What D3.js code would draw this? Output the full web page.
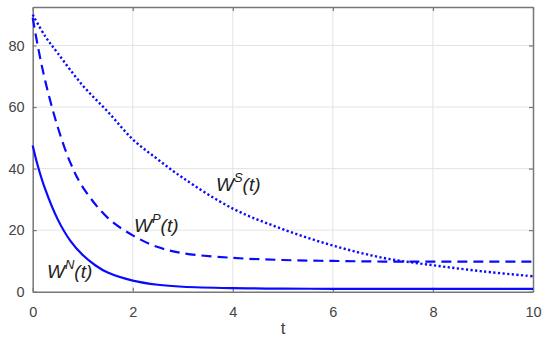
<!DOCTYPE html>
<html>
<head>
<meta charset="utf-8">
<script src="https://cdn.jsdelivr.net/npm/d3@7"></script>
<style>
  body { margin: 0; background: #fff; }
  svg { display: block; }
</style>
</head>
<body>
<svg id="chart"></svg>
<script>
// time samples and the three curves
const tN = [0, 0.1, 0.25, 0.5, 0.75, 1, 1.25, 1.5, 2, 2.5, 3, 4, 5, 6, 7, 8, 9, 10]
const wN = [47.5, 41, 33.3, 23.5, 16.6, 11.9, 8.6, 6.2, 3.6, 2.25, 1.6, 1.15, 1.0, 0.95, 0.95, 0.95, 0.95, 0.95]
const tP = [0, 0.1, 0.25, 0.5, 0.75, 1, 1.5, 2, 2.5, 3, 4, 5, 6, 7, 8, 9, 10]
const wP = [89, 80, 68.5, 53.5, 42, 34, 24, 18.3, 14.5, 12.5, 11, 10.3, 10, 9.8, 9.8, 9.8, 9.8]
const tS = [0, 0.25, 0.5, 1, 1.5, 2, 2.5, 3, 4, 5, 6, 7, 8, 9, 10]
const wS = [90, 83, 77.5, 67, 58.5, 49.5, 43, 37, 27, 20.3, 15, 11, 8.6, 6.6, 5]

const xTicks = [0, 2, 4, 6, 8, 10]
const yTicks = [0, 20, 40, 60, 80]

const width = 550, height = 345
const mLeft = 32.7, mRight = 533, mTop = 7, mBottom = 291.7
const blue = "#0a0aff", axisCol = "#777", textCol = "#444"

const svg = d3.select("#chart").attr("width", width).attr("height", height)

const xScale = d3.scaleLinear().domain([0, 10]).range([mLeft, mRight])
const yScale = d3.scaleLinear().domain([0, 92.5]).range([mBottom, mTop])

// grid
svg.append("g").selectAll("line").data(xTicks.slice(1, -1)).join("line")
    .attr("x1", d => xScale(d)).attr("x2", d => xScale(d))
    .attr("y1", mTop).attr("y2", mBottom)
    .attr("stroke", "#e3e3e3").attr("stroke-width", 1)
svg.append("g").selectAll("line").data(yTicks.slice(1)).join("line")
    .attr("y1", d => yScale(d)).attr("y2", d => yScale(d))
    .attr("x1", mLeft).attr("x2", mRight)
    .attr("stroke", "#e3e3e3").attr("stroke-width", 1)

// axes (ticks inward, MATLAB style)
const styleAxis = g => {
    g.selectAll("path").attr("stroke", axisCol).attr("stroke-width", 1.5)
    g.selectAll(".tick line").attr("stroke", axisCol).attr("stroke-width", 1.2)
    g.selectAll("text").attr("fill", textCol)
        .style("font", "14.5px 'Liberation Sans', Arial, sans-serif")
}
svg.append("g").attr("transform", `translate(0,${mBottom})`)
    .call(d3.axisBottom(xScale).tickValues(xTicks).tickSizeInner(-4).tickSizeOuter(0).tickPadding(15))
    .call(styleAxis)
svg.append("g").attr("transform", `translate(0,${mTop})`)
    .call(d3.axisTop(xScale).tickValues(xTicks).tickSizeInner(-4).tickSizeOuter(0).tickFormat(""))
    .call(styleAxis)
svg.append("g").attr("transform", `translate(${mLeft},0)`)
    .call(d3.axisLeft(yScale).tickValues(yTicks).tickSizeInner(-4).tickSizeOuter(0).tickPadding(8))
    .call(styleAxis)
svg.append("g").attr("transform", `translate(${mRight},0)`)
    .call(d3.axisRight(yScale).tickValues(yTicks).tickSizeInner(-4).tickSizeOuter(0).tickFormat(""))
    .call(styleAxis)

// curves
const line = d3.line().x(d => xScale(d[0])).y(d => yScale(d[1])).curve(d3.curveCatmullRom.alpha(0.5))
svg.append("path").datum(d3.zip(tN, wN)).attr("d", line)
    .attr("fill", "none").attr("stroke", blue).attr("stroke-width", 2.2)
svg.append("path").datum(d3.zip(tP, wP)).attr("d", line)
    .attr("fill", "none").attr("stroke", blue).attr("stroke-width", 2.2)
    .attr("stroke-dasharray", "10,6")
svg.append("path").datum(d3.zip(tS, wS)).attr("d", line)
    .attr("fill", "none").attr("stroke", blue).attr("stroke-width", 2.4)
    .attr("stroke-dasharray", "2.2,2.4")

// curve labels
const labels = [
    {x: 47, y: 278, sup: "N"},
    {x: 134, y: 232, sup: "P"},
    {x: 216, y: 191, sup: "S"}
]
labels.forEach(l => {
    const t = svg.append("text")
        .attr("x", l.x).attr("y", l.y)
        .attr("fill", "#222")
        .style("font", "italic 19px 'Liberation Sans', Arial, sans-serif")
    t.append("tspan").text("W")
    t.append("tspan").attr("dy", -9).style("font-size", "13px").text(l.sup)
    t.append("tspan").attr("dy", 9).text("(t)")
})

// x label
svg.append("text").attr("x", 283).attr("y", 334)
    .attr("text-anchor", "middle").attr("fill", textCol)
    .style("font", "17px 'Liberation Sans', Arial, sans-serif")
    .text("t")
</script>
</body>
</html>
